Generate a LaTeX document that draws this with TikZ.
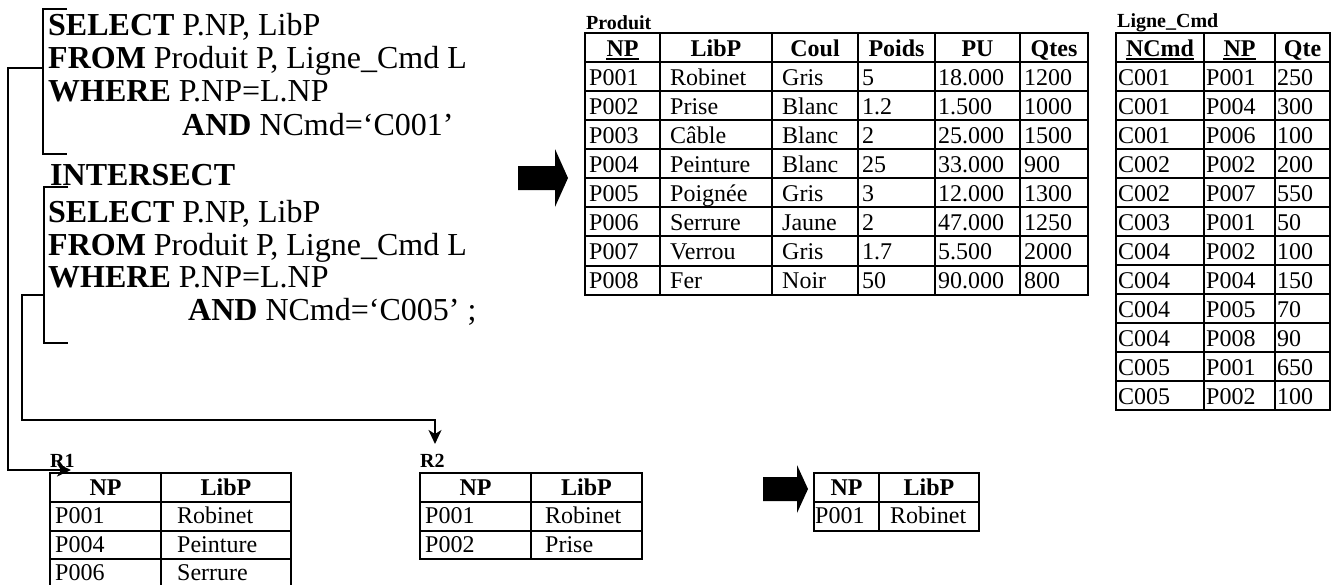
\documentclass[tikz,border=0pt]{standalone}
\usepackage{fontspec}
\setmainfont{Liberation Serif}
\usetikzlibrary{arrows.meta}
\begin{document}
\begin{tikzpicture}[x=1pt,y=-1pt,
  sql/.style={anchor=base west,inner sep=0pt,font=\fontsize{32}{36}\selectfont},
  cell/.style={anchor=base west,inner sep=0pt,font=\fontsize{24}{28}\selectfont},
  hcell/.style={anchor=base,inner sep=0pt,font=\fontsize{24}{28}\selectfont\bfseries},
  tlabel/.style={anchor=base west,inner sep=0pt,font=\fontsize{20}{24}\selectfont\bfseries},
  grid/.style={line width=2pt},
  conn/.style={line width=1.8pt},
  ulin/.style={line width=2pt},
  tip/.style={-{Stealth[length=14pt,width=13pt,inset=4pt]}},
  bigarrow/.style={fill=black}
]
\useasboundingbox (0,0) rectangle (1334,584);

% ---------- SQL text ----------
\node[sql] (s1) at (48,35) {\textbf{SELECT} P.NP, LibP};
\node[sql] (f1) at (48,68) {\textbf{FROM} Produit P, Ligne\_Cmd L};
\node[sql] (w1) at (48,101) {\textbf{WHERE} P.NP=L.NP};
\node[sql] (a1) at (182,135) {\textbf{AND} NCmd=‘C001’};
\node[sql] (inter) at (50,185) {\textbf{INTERSECT}};
\node[sql] (s2) at (48,222) {\textbf{SELECT} P.NP, LibP};
\node[sql] (f2) at (48,255) {\textbf{FROM} Produit P, Ligne\_Cmd L};
\node[sql] (w2) at (48,287) {\textbf{WHERE} P.NP=L.NP};
\node[sql] (a2) at (188,320) {\textbf{AND} NCmd=‘C005’ ;};

% brackets
\coordinate (b1t) at (67,9);   \coordinate (b1b) at (67,154);
\coordinate (b2t) at (68,187); \coordinate (b2b) at (68,343);
\coordinate (b1c) at (43,68);  \coordinate (b2c) at (44,295);
\draw[conn] (b1t) -- (43,9) -- (43,154) -- (b1b);
\draw[conn] (b2t) -- (44,187) -- (44,343) -- (b2b);

% ---------- Produit ----------
\node[tlabel] (prodlab) at (586,29) {Produit};
\draw[grid] (585,33) rectangle (1088,295);
\foreach \yy in {62,91,120,149,178,207,236,266} \draw[grid] (585,\yy) -- (1088,\yy);
\foreach \xx in {660,772,858,935,1020} \draw[grid] (\xx,33) -- (\xx,295);
\node[hcell] (ph1) at (622.5,56) {NP};
\node[hcell] (ph2) at (716,56) {LibP};
\node[hcell] (ph3) at (815,56) {Coul};
\node[hcell] (ph4) at (896.5,56) {Poids};
\node[hcell] (ph5) at (977.5,56) {PU};
\node[hcell] (ph6) at (1054,56) {Qtes};
\draw[ulin] ([yshift=-3pt]ph1.base west) -- ([yshift=-3pt]ph1.base east);
\foreach [count=\i] \a/\b/\c/\d/\e/\f in {P001/Robinet/Gris/5/18.000/1200,P002/Prise/Blanc/1.2/1.500/1000,P003/Câble/Blanc/2/25.000/1500,P004/Peinture/Blanc/25/33.000/900,P005/Poignée/Gris/3/12.000/1300,P006/Serrure/Jaune/2/47.000/1250,P007/Verrou/Gris/1.7/5.500/2000,P008/Fer/Noir/50/90.000/800}{
  \pgfmathsetmacro\yb{62+(\i-1)*29.1+23}
  \node[cell] (p\i a) at (589,\yb) {\a};
  \node[cell] (p\i b) at (670,\yb) {\b};
  \node[cell] (p\i c) at (782,\yb) {\c};
  \node[cell] (p\i d) at (862,\yb) {\d};
  \node[cell] (p\i e) at (938,\yb) {\e};
  \node[cell] (p\i f) at (1024,\yb) {\f};
}

% ---------- Ligne_Cmd ----------
\node[tlabel] (lclab) at (1117,27) {Ligne\_Cmd};
\draw[grid] (1116,33) rectangle (1330,410);
\foreach \k in {1,...,12} \draw[grid] (1116,33+\k*29) -- (1330,33+\k*29);
\foreach \xx in {1204,1275} \draw[grid] (\xx,33) -- (\xx,410);
\node[hcell] (lh1) at (1160,56) {NCmd};
\node[hcell] (lh2) at (1239.5,56) {NP};
\node[hcell] (lh3) at (1302.5,56) {Qte};
\draw[ulin] ([yshift=-3pt]lh1.base west) -- ([yshift=-3pt]lh1.base east);
\draw[ulin] ([yshift=-3pt]lh2.base west) -- ([yshift=-3pt]lh2.base east);
\foreach [count=\i] \a/\b/\c in {C001/P001/250,C001/P004/300,C001/P006/100,C002/P002/200,C002/P007/550,C003/P001/50,C004/P002/100,C004/P004/150,C004/P005/70,C004/P008/90,C005/P001/650,C005/P002/100}{
  \pgfmathsetmacro\yb{62+(\i-1)*29+23}
  \node[cell] (l\i a) at (1118,\yb) {\a};
  \node[cell] (l\i b) at (1206,\yb) {\b};
  \node[cell] (l\i c) at (1277,\yb) {\c};
}

% ---------- big arrows ----------
\fill[bigarrow] (518,166) -- (555,166) -- (555,149) -- (568,178) -- (555,207) -- (555,190) -- (518,190) -- cycle;
\fill[bigarrow] (763,477) -- (797,477) -- (797,465) -- (808,489) -- (797,513) -- (797,501) -- (763,501) -- cycle;

% ---------- R1 ----------
\node[tlabel] (r1lab) at (50,467) {R1};
\draw[grid] (50,473) rectangle (291,588);
\foreach \yy in {501.8,530.6,559.4} \draw[grid] (50,\yy) -- (291,\yy);
\draw[grid] (161,473) -- (161,588);
\node[hcell] (r1h1) at (105.5,495) {NP};
\node[hcell] (r1h2) at (226,495) {LibP};
\node[cell] (r11a) at (55,523.5) {P001};    \node[cell] (r11b) at (177,523.5) {Robinet};
\node[cell] (r12a) at (55,552.3) {P004};    \node[cell] (r12b) at (177,552.3) {Peinture};
\node[cell,text depth=0pt] (r13a) at (55,580) {P006};
\node[cell,text depth=0pt] (r13b) at (177,580) {Serrure};

% ---------- R2 ----------
\node[tlabel] (r2lab) at (420,467) {R2};
\draw[grid] (420,473) rectangle (642,559.4);
\foreach \yy in {501.8,530.6} \draw[grid] (420,\yy) -- (642,\yy);
\draw[grid] (531,473) -- (531,559.4);
\node[hcell] (r2h1) at (475.5,495) {NP};
\node[hcell] (r2h2) at (586.5,495) {LibP};
\node[cell] (r21a) at (425,523.5) {P001};   \node[cell] (r21b) at (545,523.5) {Robinet};
\node[cell] (r22a) at (425,552.3) {P002};   \node[cell] (r22b) at (545,552.3) {Prise};

% ---------- Result ----------
\draw[grid] (814,473) rectangle (979,530.6);
\draw[grid] (814,501.8) -- (979,501.8);
\draw[grid] (879,473) -- (879,530.6);
\node[hcell] (rsh1) at (846.5,495) {NP};
\node[hcell] (rsh2) at (929,495) {LibP};
\node[cell] (rs1a) at (815,523.5) {P001};   \node[cell] (rs1b) at (890,523.5) {Robinet};

% ---------- connectors ----------
\coordinate (r1tip) at (71,470);
\coordinate (r2tip) at (435,444);
\draw[conn,tip] (b1c) -- (8,68) -- (8,470) -- (r1tip);
\draw[conn,tip] (b2c) -- (22,295) -- (22,420) -- (435,420) -- (r2tip);
\end{tikzpicture}
\end{document}
